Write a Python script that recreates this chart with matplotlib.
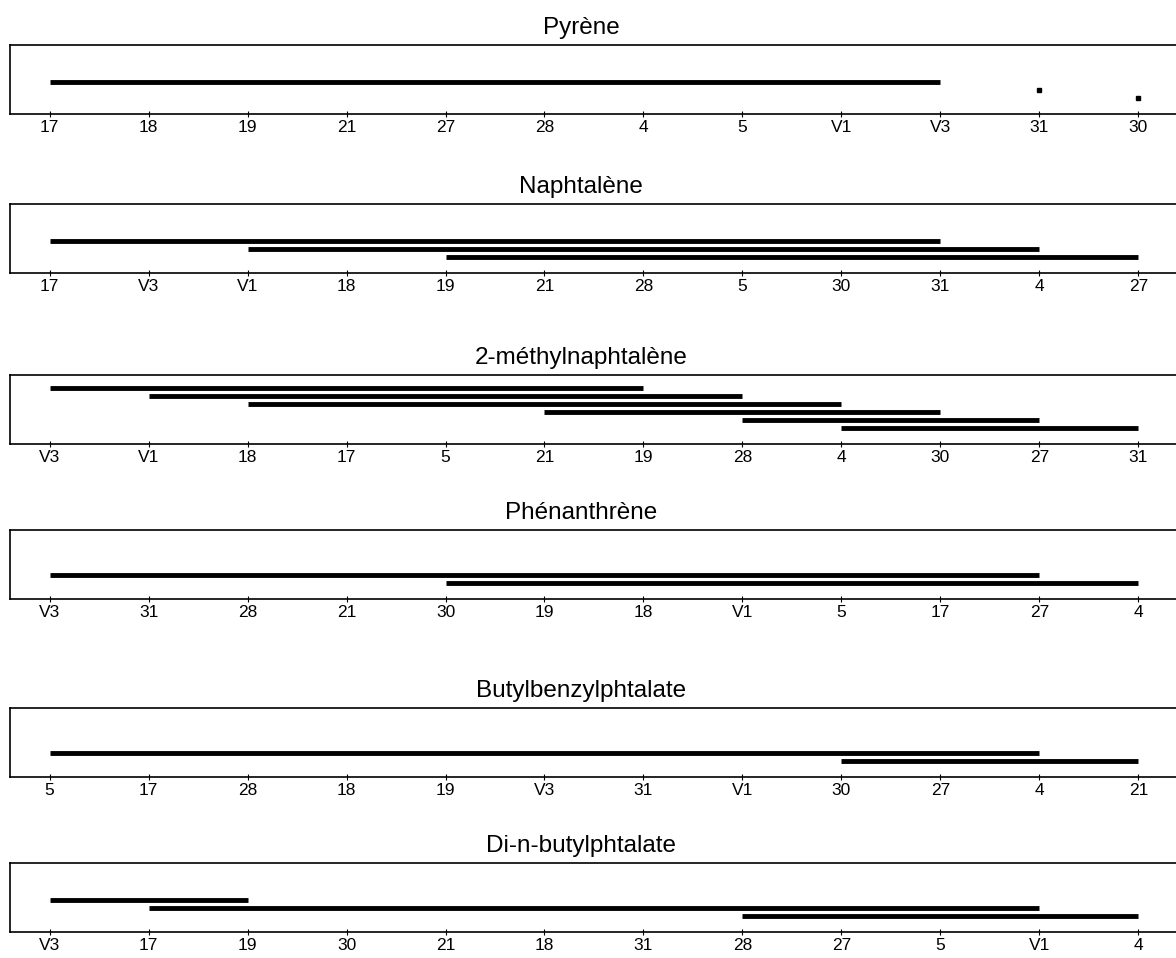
import matplotlib.pyplot as plt

plt.rcParams['font.family'] = ['Liberation Sans', 'DejaVu Sans']

# compound names (panel titles)
titles = ['Pyrène', 'Naphtalène', '2-méthylnaphtalène', 'Phénanthrène',
          'Butylbenzylphtalate', 'Di-n-butylphtalate']

# stations, in ranked order for each compound
labels_pyr = ['17', '18', '19', '21', '27', '28', '4', '5', 'V1', 'V3', '31', '30']
labels_nap = ['17', 'V3', 'V1', '18', '19', '21', '28', '5', '30', '31', '4', '27']
labels_met = ['V3', 'V1', '18', '17', '5', '21', '19', '28', '4', '30', '27', '31']
labels_phe = ['V3', '31', '28', '21', '30', '19', '18', 'V1', '5', '17', '27', '4']
labels_bbp = ['5', '17', '28', '18', '19', 'V3', '31', 'V1', '30', '27', '4', '21']
labels_dbp = ['V3', '17', '19', '30', '21', '18', '31', '28', '27', '5', 'V1', '4']

# homogeneous groups: (first, last) station in the ranked order
groups_pyr = [('17', 'V3'), ('31', '31'), ('30', '30')]
groups_nap = [('17', '31'), ('V1', '4'), ('19', '27')]
groups_met = [('V3', '19'), ('V1', '28'), ('18', '4'), ('21', '30'),
              ('28', '27'), ('4', '31')]
groups_phe = [('V3', '27'), ('30', '4')]
groups_bbp = [('5', '4'), ('30', '21')]
groups_dbp = [('V3', '19'), ('17', 'V1'), ('28', '4')]

all_labels = [labels_pyr, labels_nap, labels_met, labels_phe, labels_bbp, labels_dbp]
all_groups = [groups_pyr, groups_nap, groups_met, groups_phe, groups_bbp, groups_dbp]

W, H = 1176, 958
fig = plt.figure(figsize=(W / 100, H / 100), dpi=100)

tops = [45, 204, 375, 530, 708, 863]
box_h = 69
left, right = 10, W

for top, title, labels, groups in zip(tops, titles, all_labels, all_groups):
    ax = fig.add_axes([left / W, 1 - (top + box_h) / H, (right - left) / W, box_h / H])
    n = len(groups)
    for k, (a, b) in enumerate(groups):
        i0 = labels.index(a)
        i1 = labels.index(b)
        y = 0.235 + 0.115 * (n - 1 - k)
        if i0 == i1:
            ax.plot([i0], [y], marker='s', ms=3.5, color='black')
        else:
            ax.plot([i0, i1], [y, y], color='black', lw=3.5, solid_capstyle='butt')
    ax.set_xlim(-0.4, 11.38)
    ax.set_ylim(0, 1)
    ax.set_xticks(range(len(labels)))
    ax.set_xticklabels(labels, fontsize=12.5)
    ax.set_yticks([])
    ax.tick_params(axis='x', direction='inout', length=4, width=0.8, pad=2)
    ax.spines['right'].set_visible(False)
    for s in ['left', 'top', 'bottom']:
        ax.spines[s].set_linewidth(1.2)
    ax.set_title(title, fontsize=17.5, pad=8, x=0.49)

fig.savefig('out.png', dpi=100)
